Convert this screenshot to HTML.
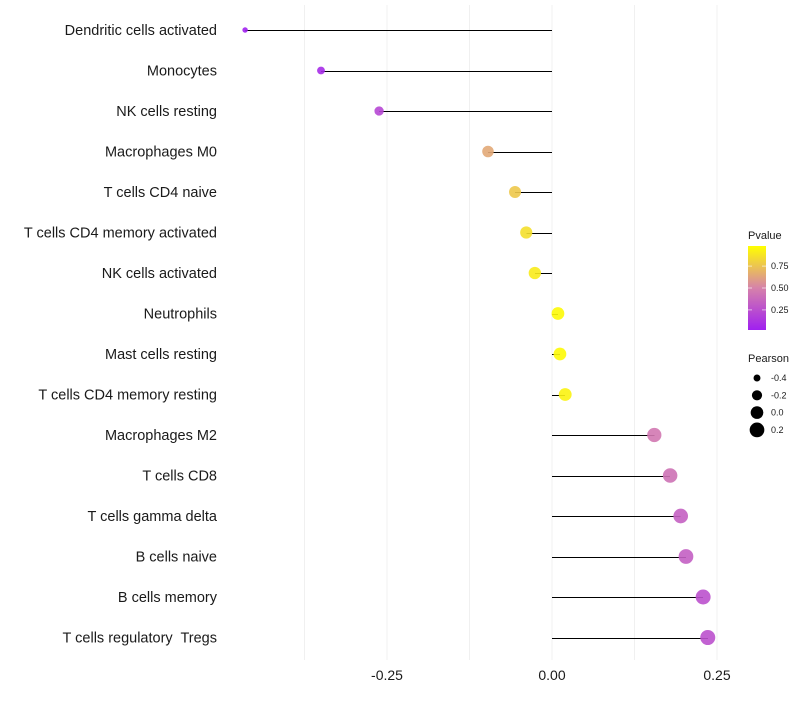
<!DOCTYPE html>
<html><head><meta charset="utf-8"><style>
body{margin:0;background:#fff;font-family:"Liberation Sans",sans-serif;}
text{white-space:pre;}
</style></head><body>
<svg id="chart" width="800" height="700" xmlns="http://www.w3.org/2000/svg"></svg>
<script>
const categories=["Dendritic cells activated","Monocytes","NK cells resting","Macrophages M0","T cells CD4 naive","T cells CD4 memory activated","NK cells activated","Neutrophils","Mast cells resting","T cells CD4 memory resting","Macrophages M2","T cells CD8","T cells gamma delta","B cells naive","B cells memory","T cells regulatory  Tregs"];
const pearson=[-0.465,-0.35,-0.262,-0.097,-0.056,-0.039,-0.026,0.009,0.012,0.020,0.155,0.179,0.195,0.203,0.229,0.236];
const pvalues=[0.01,0.06,0.2,0.65,0.78,0.87,0.92,0.98,0.98,0.95,0.45,0.42,0.33,0.32,0.25,0.25];
const xTicks=[-0.25,0,0.25];
const xTickLabels=["-0.25","0.00","0.25"];
const gridVals=[-0.375,-0.25,-0.125,0,0.125,0.25];
const legendP=[0.25,0.5,0.75];
const legendPLabels=["0.25","0.50","0.75"];
const legendR=[-0.4,-0.2,0,0.2];
const legendRLabels=["-0.4","-0.2","0.0","0.2"];

const svg=document.getElementById('chart');
const NS="http://www.w3.org/2000/svg";
const x=v=>552+v*660;
const y=i=>30+i*40.5;
const r=v=>Math.sqrt(Math.max(1,40+70*v));
function lerp(a,b,t){return a.map((c,i)=>Math.round(c+(b[i]-c)*t));}
function col(p){const s=[[160,32,240],[214,130,170],[255,255,0]];
 const c=p<0.5?lerp(s[0],s[1],p/0.5):lerp(s[1],s[2],(p-0.5)/0.5);return `rgb(${c})`;}
function mk(tag,attrs,parent){const e=document.createElementNS(NS,tag);for(const k in attrs)e.setAttribute(k,attrs[k]);(parent||svg).appendChild(e);return e;}

gridVals.forEach(v=>{const l=mk('line',{x1:x(v),x2:x(v),y1:5,y2:660,stroke:'#f0f0f0','stroke-width':1});

});

categories.forEach((c,i)=>{
 const t=mk('text',{x:217,y:y(i)+5,'text-anchor':'end','font-size':14.5,fill:'#1a1a1a'});t.textContent=c;
 
 
 const l=mk('line',{x1:x(0),x2:x(pearson[i]),y1:Math.round(y(i))+0.5,y2:Math.round(y(i))+0.5,stroke:'#000','stroke-width':1,'shape-rendering':'crispEdges'});
 
 
 const p=mk('circle',{cx:x(pearson[i]),cy:y(i),r:r(pearson[i]),fill:col(pvalues[i]),'fill-opacity':0.9});
 
 
});
xTicks.forEach((v,i)=>{const t=mk('text',{x:x(v),y:680,'text-anchor':'middle','font-size':14,fill:'#1a1a1a'});t.textContent=xTickLabels[i];
 
 });

const lt=mk('text',{x:748,y:239,'font-size':11,fill:'#1a1a1a'});lt.textContent="Pvalue";


const defs=mk('defs',{});const g=mk('linearGradient',{id:'pg',x1:0,y1:1,x2:0,y2:0},defs);
[0,0.25,0.5,0.75,1].forEach(o=>mk('stop',{offset:o,'stop-color':col(o)},g));
const bar=mk('rect',{x:748,y:246,width:18,height:84,fill:'url(#pg)'});


const py=p=>330-(p-0.02)/0.96*84;
legendP.forEach((p,i)=>{mk('line',{x1:748,x2:752,y1:py(p),y2:py(p),stroke:'#fff','stroke-opacity':0.6});mk('line',{x1:762,x2:766,y1:py(p),y2:py(p),stroke:'#fff','stroke-opacity':0.6});
 const t=mk('text',{x:771,y:py(p)+3,'font-size':9,fill:'#1a1a1a'});t.textContent=legendPLabels[i];
 
 });
const rt=mk('text',{x:748,y:362,'font-size':11,fill:'#1a1a1a'});rt.textContent="Pearson";


legendR.forEach((v,i)=>{const cy=378+i*17.3;const c=mk('circle',{cx:757,cy:cy,r:r(v),fill:'#000'});
 
 
 const t=mk('text',{x:771,y:cy+3,'font-size':9,fill:'#1a1a1a'});t.textContent=legendRLabels[i];
 
 });
</script>
</body></html>
